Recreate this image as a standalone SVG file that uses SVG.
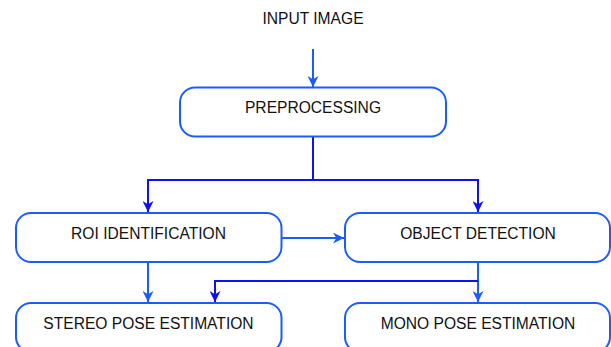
<svg xmlns="http://www.w3.org/2000/svg" width="611" height="347" viewBox="0 0 611 347">
  <style>
    .box { fill: #ffffff; stroke: #1a5cff; stroke-width: 2; }
    .lbl { font-family: "Liberation Sans", Arial, sans-serif; font-size: 15.6px; fill: #111111; text-anchor: middle; }
    .lt { fill: none; stroke: #1a5cff; stroke-width: 2; }
    .dk { fill: none; stroke: #1010f0; stroke-width: 2; }
  </style>
  <defs>
    <marker id="ahL" viewBox="0 0 10 10" refX="10" refY="5" markerWidth="5.5" markerHeight="5.5" orient="auto" markerUnits="strokeWidth">
      <path d="M0,0 L10,5 L0,10 L3,5 Z" fill="#1a5cff"/>
    </marker>
    <marker id="ahD" viewBox="0 0 10 10" refX="10" refY="5" markerWidth="5.5" markerHeight="5.5" orient="auto" markerUnits="strokeWidth">
      <path d="M0,0 L10,5 L0,10 L3,5 Z" fill="#1010f0"/>
    </marker>
  </defs>

  <g id="input">
    <text class="lbl" x="313" y="24">INPUT IMAGE</text>
  </g>

  <g id="connectors">
    <line class="lt" x1="313" y1="49" x2="313" y2="87" marker-end="url(#ahL)"/>
    <polyline class="dk" points="313,137 313,180 148,180 148,212" marker-end="url(#ahD)"/>
    <polyline class="dk" points="313,180 478,180 478,212" marker-end="url(#ahD)"/>
    <line class="lt" x1="282" y1="238" x2="344" y2="238" marker-end="url(#ahL)"/>
    <line class="lt" x1="148" y1="262" x2="148" y2="302" marker-end="url(#ahL)"/>
    <line class="lt" x1="478" y1="262" x2="478" y2="302" marker-end="url(#ahL)"/>
    <polyline class="dk" points="478,281 215,281 215,302" marker-end="url(#ahD)"/>
  </g>

  <g id="preprocessing">
    <rect class="box" x="180" y="87.5" width="266" height="49" rx="15"/>
    <text class="lbl" x="313" y="113">PREPROCESSING</text>
  </g>

  <g id="roi">
    <rect class="box" x="16" y="213" width="265.5" height="49" rx="15"/>
    <text class="lbl" x="148.5" y="239">ROI IDENTIFICATION</text>
  </g>

  <g id="object-detection">
    <rect class="box" x="345" y="213" width="265" height="49" rx="15"/>
    <text class="lbl" x="478" y="239">OBJECT DETECTION</text>
  </g>

  <g id="stereo">
    <rect class="box" x="16" y="303" width="265.5" height="49" rx="15"/>
    <text class="lbl" x="148.5" y="329">STEREO POSE ESTIMATION</text>
  </g>

  <g id="mono">
    <rect class="box" x="345" y="303" width="265" height="49" rx="15"/>
    <text class="lbl" x="478" y="329">MONO POSE ESTIMATION</text>
  </g>
</svg>
